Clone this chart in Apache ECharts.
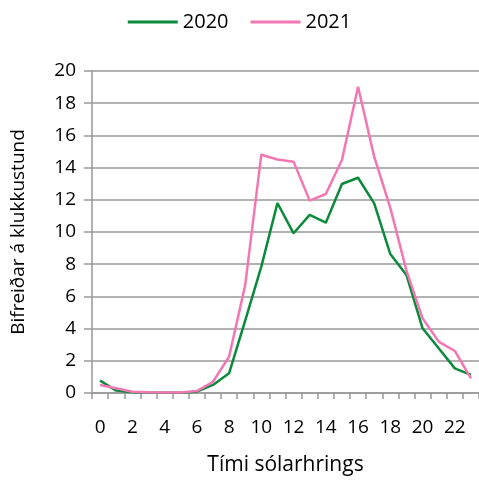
<!DOCTYPE html>
<html><head><meta charset="utf-8">
<script src="https://cdn.jsdelivr.net/npm/echarts@6/dist/echarts.min.js"></script>
<style>html,body{margin:0;padding:0;background:#fff}#c{width:479px;height:481px}</style>
</head><body><div id="c"></div>
<script>
const hours = ['0','1','2','3','4','5','6','7','8','9','10','11','12','13','14','15','16','17','18','19','20','21','22','23'];
const v2020 = [0.77,0.15,0.05,0.03,0.02,0.02,0.08,0.5,1.22,4.5,7.85,11.8,9.92,11.06,10.58,12.98,13.37,11.78,8.63,7.33,4.02,2.78,1.53,1.12];
const v2021 = [0.5,0.3,0.08,0.05,0.03,0.03,0.12,0.7,2.25,6.7,14.8,14.5,14.37,11.95,12.36,14.47,19.02,14.68,11.5,7.6,4.64,3.19,2.61,0.91];
const font = 'Open Sans, Liberation Sans, sans-serif';
const chart = echarts.init(document.getElementById('c'));
chart.setOption({
  animation:false,
  backgroundColor:'#fff',
  legend:{top:7,left:'center',itemWidth:50,itemHeight:3,itemGap:22,icon:'rect',
    textStyle:{fontFamily:font,fontSize:20,color:'#000'},
    data:['2020','2021']},
  grid:{left:92,right:0,top:71,bottom:88,containLabel:false,outerBoundsMode:'none'},
  xAxis:{type:'category',data:hours,boundaryGap:true,
    name:'Tími sólarhrings',nameLocation:'middle',nameGap:62,
    nameTextStyle:{fontFamily:font,fontSize:21,color:'#000'},
    axisLine:{lineStyle:{color:'#999',width:1.5}},
    axisTick:{show:true,interval:0,length:6,lineStyle:{color:'#999',width:1.5}},
    axisLabel:{interval:1,fontFamily:font,fontSize:19,color:'#000',margin:25}},
  yAxis:{type:'value',min:0,max:20,interval:2,
    name:'Bifreiðar á klukkustund',nameLocation:'middle',nameGap:64,nameRotate:90,
    nameTextStyle:{fontFamily:font,fontSize:19,color:'#000'},
    axisLine:{show:true,lineStyle:{color:'#999',width:1.5}},
    axisTick:{show:true,length:8,lineStyle:{color:'#999',width:1.5}},
    splitLine:{lineStyle:{color:'#999',width:1.5}},
    axisLabel:{fontFamily:font,fontSize:19,color:'#000',margin:16}},
  series:[
    {name:'2020',type:'line',data:v2020,symbol:'none',color:'#0B8A3B',lineStyle:{width:2.5,color:'#0B8A3B'}},
    {name:'2021',type:'line',data:v2021,symbol:'none',color:'#F277B2',lineStyle:{width:2.5,color:'#F277B2'}}
  ]
});
</script></body></html>
